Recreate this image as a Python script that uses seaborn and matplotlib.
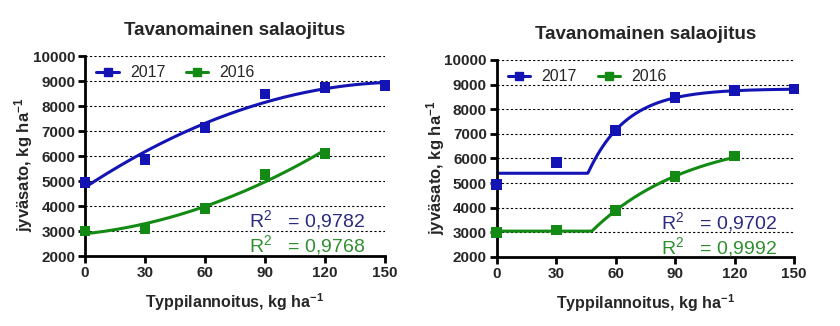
import numpy as np
import pandas as pd
import matplotlib
matplotlib.use("Agg")
import matplotlib.pyplot as plt
import seaborn as sns

# Nitrogen rates and grain yields
n_rate_2017 = [0, 30, 60, 90, 120, 150]
yield_2017 = [4950, 5850, 7150, 8480, 8750, 8820]
n_rate_2016 = [0, 30, 60, 90, 120]
yield_2016 = [3000, 3100, 3900, 5270, 6100]

years = ["2017", "2016"]
r2_poly = ["0,9782", "0,9768"]
r2_plateau = ["0,9702", "0,9992"]

# Plateau followed by one-phase association: plateau, x0, top, k
plateau_2017 = [5400, 46, 8830, 0.051]
plateau_2016 = [3050, 48, 6980, 0.020]

title = "Tavanomainen salaojitus"
xlabel = r"Typpilannoitus, kg ha$^{\mathregular{-1}}$"
ylabel = r"jyväsato, kg ha$^{\mathregular{-1}}$"
xticks = [0, 30, 60, 90, 120, 150]
yticks = list(range(2000, 10001, 1000))

BLUE = "#1414b4"
GREEN = "#138a13"
BLUE_TXT = "#2a2a7e"
GREEN_TXT = "#2f8f2f"

sns.set_theme(style="white")
plt.rcParams["font.family"] = ["Liberation Sans", "DejaVu Sans"]
plt.rcParams["mathtext.fontset"] = "custom"
plt.rcParams["mathtext.rm"] = "Liberation Sans"
plt.rcParams["mathtext.it"] = "Liberation Sans"
plt.rcParams["mathtext.bf"] = "Liberation Sans:bold"

df = pd.concat([
    pd.DataFrame({"x": n_rate_2017, "y": yield_2017, "year": "2017"}),
    pd.DataFrame({"x": n_rate_2016, "y": yield_2016, "year": "2016"}),
])
palette = {"2017": BLUE, "2016": GREEN}


def plateau_curve(x, p):
    base, x0, top, k = p
    x = np.asarray(x, dtype=float)
    return np.where(x < x0, base, base + (top - base) * (1 - np.exp(-k * (x - x0))))


def style_axes(ax):
    ax.set_xlim(0, 150)
    ax.set_ylim(2000, 10000)
    ax.set_xticks(xticks)
    ax.set_yticks(yticks)
    for t in ax.get_xticklabels() + ax.get_yticklabels():
        t.set_fontweight("bold")
        t.set_fontsize(11)
    for y in yticks[1:]:
        ax.axhline(y, color="black", lw=0.8, ls=(0, (2, 2)), zorder=0)
    sns.despine(ax=ax)
    for s in ("left", "bottom"):
        ax.spines[s].set_linewidth(2.0)
        ax.spines[s].set_color("black")
    ax.tick_params(axis="both", direction="out", length=5, width=2.0,
                   color="black", bottom=True, left=True, pad=2)
    ax.set_title(title, fontsize=13.5, fontweight="bold", pad=15)
    ax.set_xlabel(xlabel, fontsize=11.5, fontweight="bold", labelpad=8)
    ax.set_ylabel(ylabel, fontsize=12, fontweight="bold")
    ax.yaxis.set_label_coords(-0.167, 0.455)


def legend(ax):
    handles = [plt.Line2D([], [], color=palette[y], lw=2.2, marker="s", ms=6) for y in years]
    ax.legend(handles, years, loc="upper left", bbox_to_anchor=(-0.01, 1.025), ncol=2,
              frameon=False, fontsize=11.5, handlelength=1.4, columnspacing=1.3,
              handletextpad=0.7)


def r2_label(value):
    return r"R$^{\mathregular{2}}$" + "   = " + value


fig = plt.figure(figsize=(8.4, 3.26), dpi=100)
ax1 = fig.add_axes([0.1012, 0.2147, 0.3571, 0.6135])
ax2 = fig.add_axes([0.5913, 0.2117, 0.3540, 0.6043])

# Left: second-order polynomial fits
for year, xv, yv in [("2017", n_rate_2017, yield_2017), ("2016", n_rate_2016, yield_2016)]:
    coef = np.polyfit(xv, yv, 2)
    xf = np.linspace(0, max(xv), 300)
    sns.lineplot(x=xf, y=np.polyval(coef, xf), ax=ax1, color=palette[year], lw=2.2)
sns.scatterplot(data=df, x="x", y="y", hue="year", palette=palette, marker="s",
                s=60, edgecolor="none", ax=ax1, legend=False, clip_on=False, zorder=5)
style_axes(ax1)
legend(ax1)
ax1.text(82, 3450, r2_label(r2_poly[0]), color=BLUE_TXT, fontsize=14, va="center")
ax1.text(82, 2450, r2_label(r2_poly[1]), color=GREEN_TXT, fontsize=14, va="center")

# Right: plateau followed by one-phase association
for year, xv, p in [("2017", n_rate_2017, plateau_2017), ("2016", n_rate_2016, plateau_2016)]:
    xf = np.linspace(0, max(xv), 400)
    sns.lineplot(x=xf, y=plateau_curve(xf, p), ax=ax2, color=palette[year], lw=2.2)
sns.scatterplot(data=df, x="x", y="y", hue="year", palette=palette, marker="s",
                s=60, edgecolor="none", ax=ax2, legend=False, clip_on=False, zorder=5)
style_axes(ax2)
legend(ax2)
ax2.text(83, 3420, r2_label(r2_plateau[0]), color=BLUE_TXT, fontsize=14, va="center")
ax2.text(83, 2420, r2_label(r2_plateau[1]), color=GREEN_TXT, fontsize=14, va="center")

fig.savefig("out.png", dpi=100)
